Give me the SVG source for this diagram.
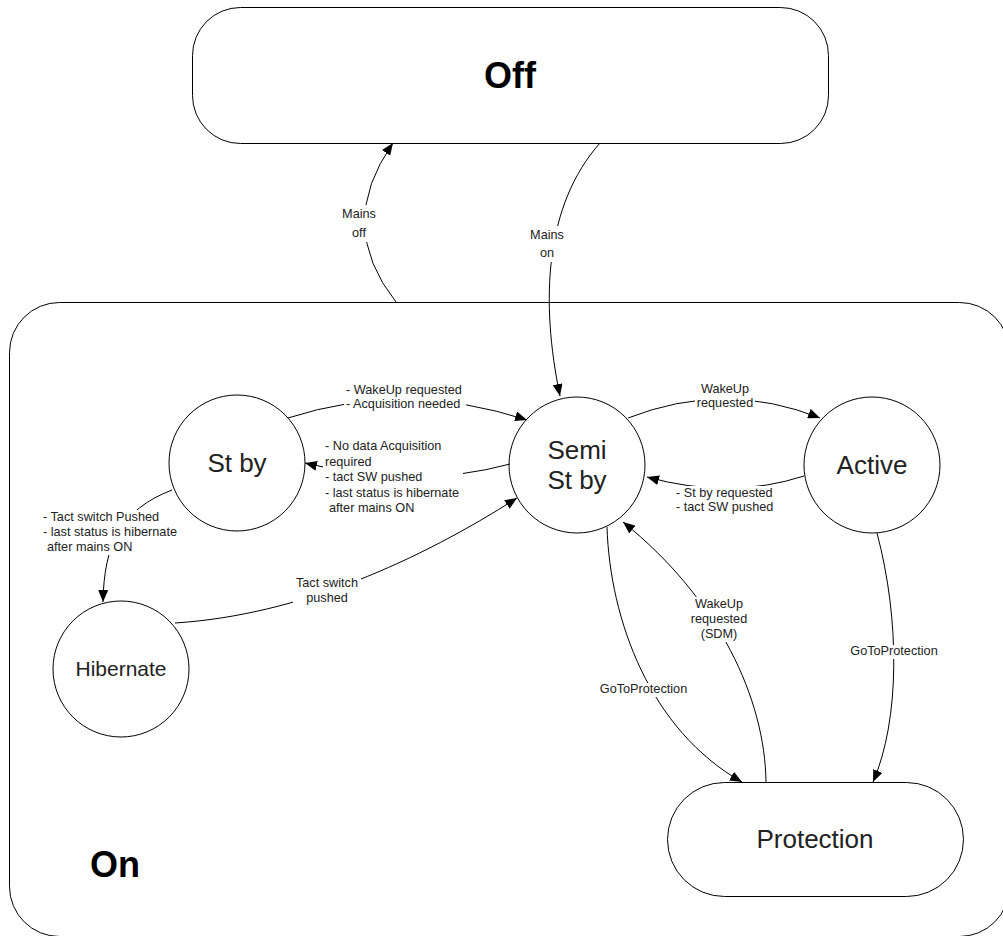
<svg xmlns="http://www.w3.org/2000/svg" width="1003" height="936" viewBox="0 0 1003 936">
<defs>
<marker id="arr" markerUnits="userSpaceOnUse" markerWidth="12" markerHeight="10" refX="12" refY="5" orient="auto">
<path d="M0,0 L12,5 L0,10 z" fill="#000"/>
</marker>
<style>
.box{fill:#fff;stroke:#000;stroke-width:1}
.st{fill:#fff;stroke:#000;stroke-width:1}
.c{fill:none;stroke:#000;stroke-width:1;marker-end:url(#arr)}
.cn{fill:none;stroke:#000;stroke-width:1}
.bg{fill:#fff;stroke:none}
.lb{font-family:"Liberation Sans",Arial,sans-serif;font-size:12.7px;fill:#222}
.mid{text-anchor:middle}
.big{font-family:"Liberation Sans",Arial,sans-serif;font-weight:bold;font-size:36px;fill:#000}
.nt{font-family:"Liberation Sans",Arial,sans-serif;font-size:26px;fill:#222;text-anchor:middle}
</style>
</defs>
<g id="On">
<rect class="box" x="9.5" y="302.5" width="1000" height="634" rx="50"/>
<text class="big" x="90" y="877">On</text>
</g>
<g id="Off">
<rect class="box" x="192.5" y="7.5" width="636" height="136" rx="48"/>
<text class="big" x="510" y="88" text-anchor="middle">Off</text>
</g>
<g id="StBy">
<circle class="st" cx="237" cy="463" r="68"/>
<text class="nt" x="237" y="472">St by</text>
</g>
<g id="SemiStBy">
<circle class="st" cx="577" cy="465" r="68"/>
<text class="nt" x="577" y="459">Semi</text>
<text class="nt" x="577" y="489">St by</text>
</g>
<g id="Active">
<circle class="st" cx="872" cy="465" r="68"/>
<text class="nt" x="872" y="474">Active</text>
</g>
<g id="Hibernate">
<circle class="st" cx="121" cy="669" r="68"/>
<text class="nt" x="121" y="676" style="font-size:21px">Hibernate</text>
</g>
<g id="Protection">
<rect class="box" x="667.5" y="782.5" width="296" height="114" rx="57"/>
<text class="nt" x="815" y="848">Protection</text>
</g>
<g id="connectors">
<path class="c" d="M396,302 Q335,225 393,143"/>
<path class="c" d="M600,143 C545,205 540,300 560,396"/>
<path class="c" d="M288,418 Q405,380 527,420"/>
<path class="c" d="M510,464 Q415,490 305,463"/>
<path class="c" d="M628,418 Q725,380 820,418"/>
<path class="c" d="M804,476 Q730,500 647,477"/>
<path class="c" d="M172,490 C120,510 104,545 103,602"/>
<path class="c" d="M175,623 C300,615 420,560 517,498"/>
<path class="c" d="M607,527 C610,620 650,730 742,782"/>
<path class="c" d="M766,782 C765,700 720,600 623,522"/>
<path class="c" d="M877,533 C900,620 900,720 873,782"/>
</g>
<g id="labels">
<rect class="bg" x="336" y="205" width="46" height="37"/>
<text class="lb mid" x="359" y="218">Mains</text>
<text class="lb mid" x="359" y="237">off</text>
<rect class="bg" x="524" y="226" width="46" height="36"/>
<text class="lb mid" x="547" y="239">Mains</text>
<text class="lb mid" x="547" y="257">on</text>
<rect class="bg" x="344" y="383" width="122" height="29"/>
<text class="lb" x="346" y="394">- WakeUp requested</text>
<text class="lb" x="346" y="408">- Acquisition needed</text>
<rect class="bg" x="323" y="439" width="140" height="77"/>
<text class="lb" x="325" y="450">- No data Acquisition</text>
<text class="lb" x="325" y="465.5">required</text>
<text class="lb" x="325" y="481">- tact SW pushed</text>
<text class="lb" x="325" y="496.5">- last status is hibernate</text>
<text class="lb" x="329" y="512">after mains ON</text>
<rect class="bg" x="695" y="382" width="60" height="29"/>
<text class="lb mid" x="725" y="393">WakeUp</text>
<text class="lb mid" x="725" y="407">requested</text>
<rect class="bg" x="674" y="486" width="101" height="29"/>
<text class="lb" x="676" y="497">- St by requested</text>
<text class="lb" x="676" y="511">- tact SW pushed</text>
<rect class="bg" x="41" y="510" width="139" height="45"/>
<text class="lb" x="43" y="521">- Tact switch Pushed</text>
<text class="lb" x="43" y="536">- last status is hibernate</text>
<text class="lb" x="47" y="551">after mains ON</text>
<rect class="bg" x="293" y="576" width="68" height="30"/>
<text class="lb mid" x="327" y="587">Tact switch</text>
<text class="lb mid" x="327" y="602">pushed</text>
<rect class="bg" x="597" y="683" width="93" height="14"/>
<text class="lb mid" x="643.5" y="693">GoToProtection</text>
<rect class="bg" x="690" y="597" width="58" height="45"/>
<text class="lb mid" x="719" y="608">WakeUp</text>
<text class="lb mid" x="719" y="623">requested</text>
<text class="lb mid" x="719" y="638">(SDM)</text>
<rect class="bg" x="848" y="645" width="92" height="14"/>
<text class="lb mid" x="894" y="655">GoToProtection</text>
</g>
</svg>
